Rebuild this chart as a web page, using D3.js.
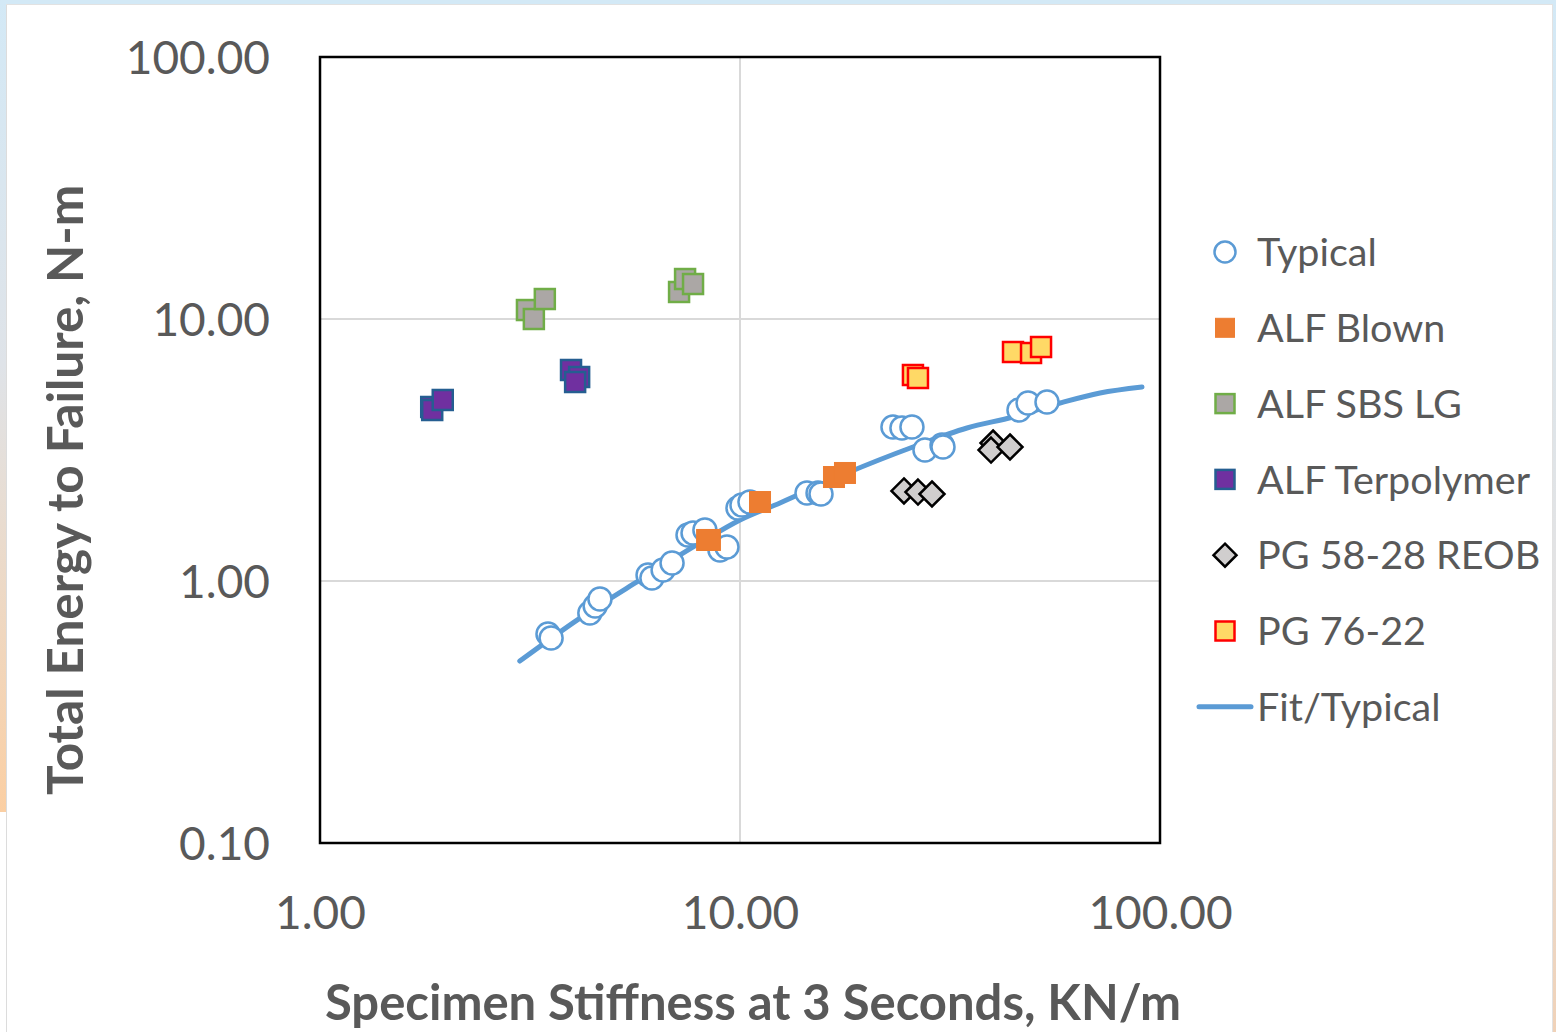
<!DOCTYPE html>
<html>
<head>
<meta charset="utf-8">
<script src="https://cdn.jsdelivr.net/npm/d3@7"></script>
<style>
  html, body { margin: 0; padding: 0; background: #ffffff; }
  svg { display: block; font-family: Lato, "Open Sans", sans-serif; }
</style>
</head>
<body>
<svg id="chart" width="1556" height="1032"></svg>
<script>
// Specimen stiffness (KN/m) vs total energy to failure (N-m), log-log

const typicalX = [3.49, 3.55, 4.39, 4.52, 4.64, 6.04, 6.17, 6.56, 6.89, 7.52, 7.73, 8.25, 8.96, 9.31, 9.89, 10.11, 10.56, 14.44, 15.34, 15.59, 23.13, 24.30, 25.67, 27.57, 30.27, 30.43, 46.16, 48.51, 53.82];
const typicalY = [0.628, 0.606, 0.755, 0.803, 0.854, 1.054, 1.027, 1.102, 1.171, 1.498, 1.525, 1.565, 1.313, 1.348, 1.899, 1.950, 2.002, 2.168, 2.168, 2.148, 3.870, 3.837, 3.870, 3.162, 3.304, 3.247, 4.494, 4.779, 4.822];

const blownX = [8.35, 8.48, 11.16, 16.74, 17.78];
const blownY = [1.434, 1.434, 2.002, 2.494, 2.584];

const sbsX = [3.11, 3.23, 3.43, 7.16, 7.40, 7.73];
const sbsY = [10.82, 10.00, 11.92, 12.68, 14.21, 13.60];

const terpX = [1.84, 1.85, 1.96, 3.96, 4.14, 4.05];
const terpY = [4.615, 4.494, 4.908, 6.388, 6.006, 5.748];

const reobX = [24.57, 26.53, 28.65, 40.04, 39.60, 43.94];
const reobY = [2.206, 2.186, 2.148, 3.363, 3.162, 3.247];

const pg7622X = [25.81, 26.53, 44.67, 49.31, 52.09];
const pg7622Y = [6.113, 5.954, 7.482, 7.417, 7.818];

const fitX = [2.99, 4.16, 5.78, 8.03, 10.0, 12.45, 17.98, 25.81, 34.71, 44.67, 57.79, 71.97, 90.6];
const fitY = [0.495, 0.722, 1.009, 1.397, 1.709, 1.985, 2.584, 3.247, 3.837, 4.226, 4.779, 5.220, 5.503];

const xTicks = [1, 10, 100];
const yTicks = [0.1, 1, 10, 100];

const legendNames = ["Typical", "ALF Blown", "ALF SBS LG", "ALF Terpolymer", "PG 58-28 REOB", "PG 76-22", "Fit/Typical"];

(function draw() {
  const zip = (xs, ys) => xs.map((v, i) => ({ x: v, y: ys[i] }));

  const svg = d3.select("#chart");
  const W = 1556, H = 1032;
  const pL = 320, pR = 1160, pT = 57, pB = 843;

  // page frame: tinted edges around a white sheet
  const defs = svg.append("defs");
  const gL = defs.append("linearGradient").attr("id", "edgeL").attr("x1", 0).attr("y1", 0).attr("x2", 0).attr("y2", 1);
  gL.append("stop").attr("offset", "0%").attr("stop-color", "#d3e9f6");
  gL.append("stop").attr("offset", "45%").attr("stop-color", "#dfe3e8");
  gL.append("stop").attr("offset", "100%").attr("stop-color", "#fbcfa3");
  const gR = defs.append("linearGradient").attr("id", "edgeR").attr("x1", 0).attr("y1", 0).attr("x2", 0).attr("y2", 1);
  gR.append("stop").attr("offset", "0%").attr("stop-color", "#d3e9f6");
  gR.append("stop").attr("offset", "60%").attr("stop-color", "#e4e2e2");
  gR.append("stop").attr("offset", "100%").attr("stop-color", "#f0d2b8");

  svg.append("rect").attr("x", 0).attr("y", 0).attr("width", W).attr("height", 4).attr("fill", "#d3e9f6");
  svg.append("rect").attr("x", 0).attr("y", 0).attr("width", 6).attr("height", 812).attr("fill", "url(#edgeL)");
  svg.append("rect").attr("x", 1553).attr("y", 0).attr("width", 3).attr("height", H).attr("fill", "url(#edgeR)");
  svg.append("line").attr("x1", 6.5).attr("x2", 6.5).attr("y1", 4).attr("y2", H).attr("stroke", "#dcdcdc").attr("stroke-width", 1);
  svg.append("line").attr("x1", 6).attr("x2", 1553).attr("y1", 4.5).attr("y2", 4.5).attr("stroke", "#e2e2e2").attr("stroke-width", 1);
  svg.append("line").attr("x1", 1552.5).attr("x2", 1552.5).attr("y1", 4).attr("y2", H).attr("stroke", "#e2e2e2").attr("stroke-width", 1);

  const x = d3.scaleLog().domain([1, 100]).range([pL, pR]);
  const y = d3.scaleLog().domain([0.1, 100]).range([pB, pT]);

  // gridlines
  const grid = svg.append("g").attr("stroke", "#d9d9d9").attr("stroke-width", 2);
  grid.selectAll("line.h").data(yTicks.filter(v => v > 0.1 && v < 100)).join("line").attr("class", "h")
    .attr("x1", pL).attr("x2", pR).attr("y1", d => y(d)).attr("y2", d => y(d));
  grid.selectAll("line.v").data(xTicks.filter(v => v > 1 && v < 100)).join("line").attr("class", "v")
    .attr("y1", pT).attr("y2", pB).attr("x1", d => x(d)).attr("x2", d => x(d));

  // axes (labels only)
  const fmt = d3.format(".2f");
  const yAxis = svg.append("g").attr("transform", `translate(${pL - 50},0)`)
    .call(d3.axisLeft(y).tickValues(yTicks).tickFormat(fmt).tickSize(0).tickPadding(0));
  yAxis.select(".domain").remove();
  yAxis.selectAll("text").attr("font-size", 46).attr("fill", "#595959").attr("font-family", "Lato, sans-serif").attr("dy", "0.35em");

  const xAxis = svg.append("g").attr("transform", `translate(0,${pB})`)
    .call(d3.axisBottom(x).tickValues(xTicks).tickFormat(fmt).tickSize(0).tickPadding(0));
  xAxis.select(".domain").remove();
  xAxis.selectAll("text").attr("font-size", 46).attr("fill", "#595959").attr("font-family", "Lato, sans-serif")
    .attr("dy", null).attr("y", 86);

  // fit line
  const line = d3.line().x(d => x(d.x)).y(d => y(d.y)).curve(d3.curveMonotoneX);
  svg.append("path").datum(zip(fitX, fitY)).attr("d", line)
    .attr("fill", "none").attr("stroke", "#5b9bd5").attr("stroke-width", 5).attr("stroke-linecap", "round");

  // series markers
  const SQ = 20;
  function squares(data, fill, stroke, size, sw) {
    svg.append("g").selectAll("rect").data(data).join("rect")
      .attr("x", d => x(d.x) - size / 2).attr("y", d => y(d.y) - size / 2)
      .attr("width", size).attr("height", size)
      .attr("fill", fill).attr("stroke", stroke).attr("stroke-width", sw);
  }

  svg.append("g").selectAll("circle").data(zip(typicalX, typicalY)).join("circle")
    .attr("cx", d => x(d.x)).attr("cy", d => y(d.y)).attr("r", 11.5)
    .attr("fill", "#ffffff").attr("stroke", "#5b9bd5").attr("stroke-width", 2.5);

  squares(zip(blownX, blownY), "#ed7d31", "#ed7d31", SQ + 1, 1);
  squares(zip(sbsX, sbsY), "#aba7a5", "#70ad47", SQ, 2.5);
  squares(zip(terpX, terpY), "#7030a0", "#255e91", SQ, 2.5);

  svg.append("g").selectAll("path").data(zip(reobX, reobY)).join("path")
    .attr("d", d => { const cx = x(d.x), cy = y(d.y), r = 12.5; return `M${cx},${cy - r}L${cx + r},${cy}L${cx},${cy + r}L${cx - r},${cy}Z`; })
    .attr("fill", "#d0cece").attr("stroke", "#000000").attr("stroke-width", 2.5).attr("stroke-linejoin", "miter");

  squares(zip(pg7622X, pg7622Y), "#ffd966", "#ff0000", SQ, 2.5);

  // plot frame
  svg.append("rect").attr("x", pL).attr("y", pT).attr("width", pR - pL).attr("height", pB - pT)
    .attr("fill", "none").attr("stroke", "#000000").attr("stroke-width", 2.5);

  // axis titles
  svg.append("text").attr("transform", "translate(83,490) rotate(-90)")
    .attr("text-anchor", "middle").attr("font-size", 49.5).attr("font-weight", "bold").attr("fill", "#595959")
    .text("Total Energy to Failure, N-m");
  svg.append("text").attr("x", 753).attr("y", 1020)
    .attr("text-anchor", "middle").attr("font-size", 49).attr("font-weight", "bold").attr("fill", "#595959")
    .text("Specimen Stiffness at 3 Seconds, KN/m");

  // legend
  const leg = svg.append("g");
  const rowY = i => 252 + i * 75.8;
  const lx = 1225;
  leg.append("circle").attr("cx", lx).attr("cy", rowY(0)).attr("r", 10.5)
    .attr("fill", "#fff").attr("stroke", "#5b9bd5").attr("stroke-width", 2.5);
  const legSq = [["#ed7d31", "#ed7d31"], ["#aba7a5", "#70ad47"], ["#7030a0", "#255e91"]];
  legSq.forEach((c, i) => leg.append("rect").attr("x", lx - 9.5).attr("y", rowY(i + 1) - 9.5).attr("width", 19).attr("height", 19)
    .attr("fill", c[0]).attr("stroke", c[1]).attr("stroke-width", c[0] === c[1] ? 1 : 2.5));
  leg.append("path").attr("d", `M${lx},${rowY(4) - 11.5}L${lx + 11.5},${rowY(4)}L${lx},${rowY(4) + 11.5}L${lx - 11.5},${rowY(4)}Z`)
    .attr("fill", "#d0cece").attr("stroke", "#000").attr("stroke-width", 2.5);
  leg.append("rect").attr("x", lx - 9.5).attr("y", rowY(5) - 9.5).attr("width", 19).attr("height", 19)
    .attr("fill", "#ffd966").attr("stroke", "#ff0000").attr("stroke-width", 2.5);
  leg.append("line").attr("x1", 1199).attr("x2", 1251).attr("y1", rowY(6)).attr("y2", rowY(6))
    .attr("stroke", "#5b9bd5").attr("stroke-width", 5).attr("stroke-linecap", "round");
  leg.selectAll("text").data(legendNames).join("text")
    .attr("x", 1257).attr("y", (d, i) => rowY(i)).attr("dy", "0.36em")
    .attr("font-size", 39.5).attr("fill", "#595959").text(d => d);
})();
</script>
</body>
</html>
